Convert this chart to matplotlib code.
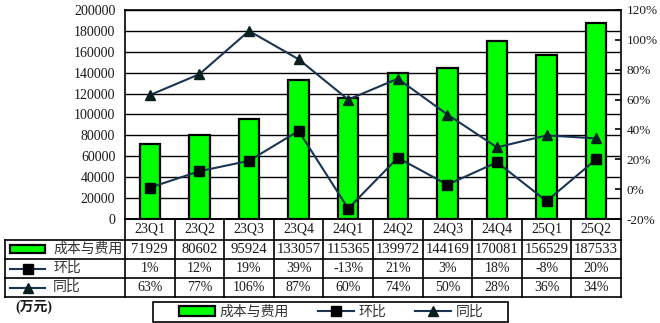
import matplotlib
matplotlib.use("Agg")
import matplotlib.pyplot as plt
import matplotlib.transforms as mtransforms
from matplotlib.patches import Rectangle
from matplotlib.lines import Line2D
import numpy as np

plt.rcParams['font.family'] = ['Liberation Serif', 'Noto Sans CJK SC']
plt.rcParams['axes.unicode_minus'] = False

categories = ["23Q1", "23Q2", "23Q3", "23Q4", "24Q1", "24Q2", "24Q3", "24Q4", "25Q1", "25Q2"]
costs = [71929, 80602, 95924, 133057, 115365, 139972, 144169, 170081, 156529, 187533]
qoq = [1, 12, 19, 39, -13, 21, 3, 18, -8, 20]
yoy = [63, 77, 106, 87, 60, 74, 50, 28, 36, 34]
series_names = ["成本与费用", "环比", "同比"]
unit_label = "(万元)"

W, H = 660, 323
GREEN = "#00ff00"
LINE = "#1a3552"
TXT = "#1a1a1a"

fig = plt.figure(figsize=(W / 100, H / 100), dpi=100)
fig.patch.set_facecolor("white")

def fx(px):
    return px / W

def fy(py):
    return 1 - py / H

ax_l, ax_r, ax_t, ax_b = 125, 621, 10, 219
ax = fig.add_axes([fx(ax_l), fy(ax_b), fx(ax_r - ax_l), (ax_b - ax_t) / H])
x = np.arange(len(categories))
bars = ax.bar(x, costs, width=0.41, color=GREEN, edgecolor="black", linewidth=1.6,
              zorder=3, label=series_names[0])
ax.set_xlim(-0.5, len(categories) - 0.5)
ax.set_ylim(0, 200000)
ax.set_yticks(np.arange(0, 200001, 20000))
ax.yaxis.grid(True, color="black", linewidth=1.0, zorder=0)
ax.set_axisbelow(True)
ax.set_xticks([])
ax.tick_params(axis="y", length=0, pad=7, labelsize=10, labelcolor=TXT)
for s in ["left", "top", "right", "bottom"]:
    ax.spines[s].set_linewidth(1.2)
    ax.spines[s].set_color("black")

ax2 = ax.twinx()
ax2.set_ylim(-20, 120)
ax2.set_yticks(np.arange(-20, 121, 20))
ax2.set_yticklabels([f"{v}%" for v in range(-20, 121, 20)])
ax2.tick_params(axis="y", direction="in", length=4, width=1.2, pad=4, labelsize=9.5,
                labelcolor=TXT)
for s in ["left", "top", "right", "bottom"]:
    ax2.spines[s].set_visible(False)
l1, = ax2.plot(x, qoq, color=LINE, linewidth=1.5, marker="s", markersize=6.5,
               markerfacecolor="black", markeredgecolor="black", zorder=5,
               label=series_names[1])
l2, = ax2.plot(x, yoy, color=LINE, linewidth=1.5, marker="^", markersize=7,
               markerfacecolor="#0a1f1f", markeredgecolor="#0a1f1f", zorder=5,
               label=series_names[2])

# ---- data table below the axes ----
col_w = (ax_r - ax_l) / len(categories)
rows = [219, 239.5, 259, 278, 297]
lw = 1.2
ft = fig.transFigure
fig.add_artist(Line2D([fx(ax_l), fx(ax_r)], [fy(rows[0])] * 2, color="black", lw=lw, transform=ft))
for r in rows[1:]:
    fig.add_artist(Line2D([fx(5), fx(ax_r)], [fy(r)] * 2, color="black", lw=lw, transform=ft))
fig.add_artist(Line2D([fx(5), fx(5)], [fy(rows[1]), fy(rows[-1])], color="black", lw=lw, transform=ft))
for k in range(len(categories) + 1):
    xp = ax_l + k * col_w
    fig.add_artist(Line2D([fx(xp)] * 2, [fy(rows[0]), fy(rows[-1])], color="black", lw=lw, transform=ft))

bt = mtransforms.blended_transform_factory(ax.transData, ft)
row_c = [(rows[i] + rows[i + 1]) / 2 for i in range(4)]
for i, c in enumerate(categories):
    fig.text(x[i], fy(row_c[0]), c, transform=bt, ha="center", va="center", fontsize=10, color=TXT)
    fig.text(x[i], fy(row_c[1]), f"{costs[i]}", transform=bt, ha="center", va="center", fontsize=10.5, color=TXT)
    fig.text(x[i], fy(row_c[2]), f"{qoq[i]}%", transform=bt, ha="center", va="center", fontsize=10, color=TXT)
    fig.text(x[i], fy(row_c[3]), f"{yoy[i]}%", transform=bt, ha="center", va="center", fontsize=10, color=TXT)

fig.add_artist(Rectangle((fx(10), fy(row_c[1] + 4)), fx(35), 8 / H, facecolor=GREEN,
                         edgecolor="black", linewidth=1.6, transform=ft))
fig.add_artist(Line2D([fx(10), fx(45)], [fy(row_c[2])] * 2, color=LINE, lw=1.5, transform=ft))
fig.add_artist(Line2D([fx(27.5)], [fy(row_c[2])], color=LINE, marker="s", markersize=6.5,
                      markerfacecolor="black", markeredgecolor="black", transform=ft))
fig.add_artist(Line2D([fx(10), fx(45)], [fy(row_c[3])] * 2, color=LINE, lw=1.5, transform=ft))
fig.add_artist(Line2D([fx(27.5)], [fy(row_c[3])], color=LINE, marker="^", markersize=7,
                      markerfacecolor="#0a1f1f", markeredgecolor="#0a1f1f", transform=ft))
for i, name in enumerate(series_names):
    fig.text(fx(53), fy(row_c[i + 1]), name, ha="left", va="center", fontsize=10, color="#333333")

fig.text(fx(15), fy(307), unit_label, ha="left", va="center", fontsize=10, color=TXT,
         fontweight="bold")

# legend (frame drawn separately to match the wide box)
fig.add_artist(Rectangle((fx(153), fy(322)), fx(508 - 153), 20 / H, facecolor="white",
                         edgecolor="black", linewidth=1.2, transform=ft))
leg = fig.legend(handles=[bars, l1, l2], labels=series_names, loc="center",
                 bbox_to_anchor=(fx(331), fy(312)), ncol=3, frameon=False,
                 fontsize=10, handlelength=2.6, handletextpad=0.3,
                 columnspacing=2.1, borderpad=0.1, borderaxespad=0)
for t in leg.get_texts():
    t.set_color("#333333")

fig.savefig("out.png", dpi=100)
